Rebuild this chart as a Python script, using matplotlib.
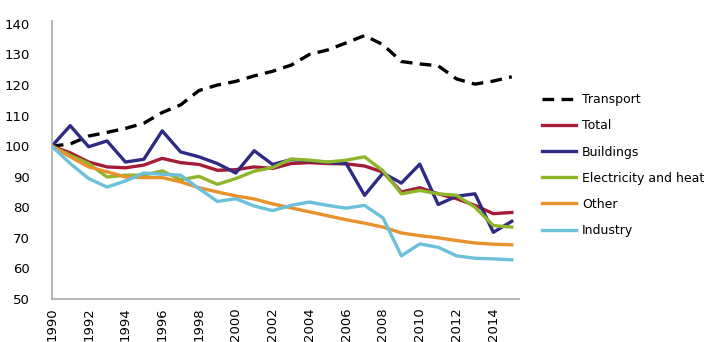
import matplotlib
matplotlib.use("Agg")
import matplotlib.pyplot as plt

years = list(range(1990, 2016))

transport = [100, 100.7, 103.3, 104.5, 105.8, 107.5, 111, 113.5, 118.2, 120, 121.2, 123, 124.5,
             126.5, 130, 131.5, 133.8, 136.2, 133.2, 127.7, 126.9, 126.3, 122, 120.3, 121.3, 122.7]
total = [100, 97.8, 94.8, 93.2, 92.9, 93.8, 96, 94.6, 94, 92.1, 92.3, 93.2, 92.7,
         94.3, 94.6, 94.3, 94.2, 93.5, 91.5, 85, 86.4, 84.4, 82.8, 80.6, 77.9, 78.3]
buildings = [100, 106.7, 99.8, 101.7, 94.8, 95.7, 105, 98.1, 96.5, 94.3, 91.2, 98.5, 94,
             95.6, 95.2, 94.7, 94.3, 83.9, 91.2, 87.9, 94.1, 80.9, 83.6, 84.4, 71.8, 75.4]
electricity = [100, 97, 94.3, 89.9, 90.5, 90.5, 91.9, 89, 90.1, 87.5, 89.4, 91.8, 93,
               95.8, 95.4, 94.8, 95.4, 96.5, 91.9, 84.4, 85.5, 84.4, 83.9, 80, 74, 73.5]
other = [100, 96.5, 93.2, 91.6, 89.9, 89.7, 89.7, 88.3, 86.4, 85, 83.7, 82.7, 81.1,
         79.8, 78.5, 77.2, 75.9, 74.8, 73.5, 71.6, 70.7, 70, 69.1, 68.3, 67.9, 67.7]
industry = [100, 94.3, 89.4, 86.6, 88.6, 91.2, 90.8, 90.5, 86.1, 81.9, 82.8, 80.4, 78.9,
            80.6, 81.7, 80.6, 79.7, 80.6, 76.5, 64.1, 68, 66.9, 64.1, 63.3, 63.1, 62.8]

fig = plt.figure(figsize=(7.2, 3.42), dpi=100)
ax = fig.add_axes([0.072, 0.126, 0.649, 0.813])

lw = 2.4
ax.plot(years, transport, color="black", lw=lw, dashes=(3.5, 2.2), label="Transport")
ax.plot(years, total, color="#a51c36", lw=lw, label="Total")
ax.plot(years, buildings, color="#2f2b84", lw=lw, label="Buildings")
ax.plot(years, electricity, color="#8fb52a", lw=lw, label="Electricity and heat")
ax.plot(years, other, color="#e8922c", lw=lw, label="Other")
ax.plot(years, industry, color="#6cc0da", lw=lw, label="Industry")

ax.set_xlim(1990, 2015.4)
ax.set_ylim(50, 141)
ax.set_yticks(range(50, 141, 10))
ax.set_xticks(range(1990, 2015, 2))
ax.tick_params(axis="x", labelrotation=90, length=0, labelsize=9.5, pad=6)
ax.tick_params(axis="y", length=0, labelsize=9.5, pad=16)
for s in ["top", "right"]:
    ax.spines[s].set_visible(False)
for s in ["left", "bottom"]:
    ax.spines[s].set_color("#aaaaaa")
    ax.spines[s].set_linewidth(1.2)

fig.legend(loc="upper left", bbox_to_anchor=(0.737, 0.76), frameon=False,
           fontsize=9, handlelength=2.7, labelspacing=1.05, handletextpad=0.5)

fig.savefig("out.png", dpi=100)
